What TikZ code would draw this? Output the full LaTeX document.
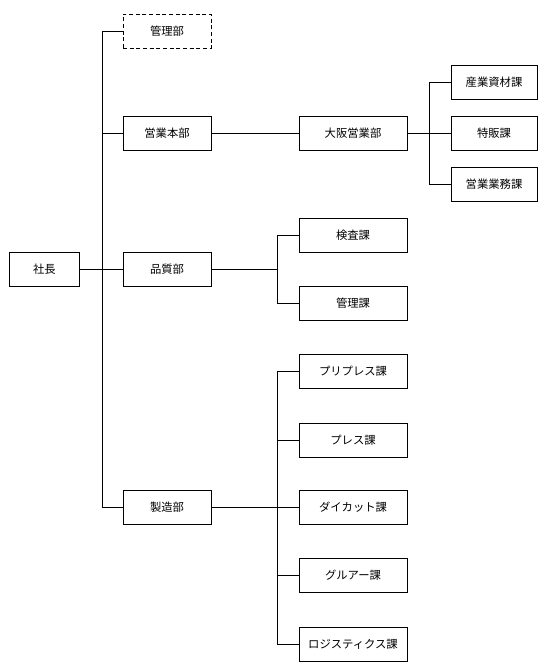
\documentclass[tikz,border=0pt]{standalone}
\usepackage{fontspec}
\setmainfont{Noto Sans CJK JP}
\usetikzlibrary{positioning}

\begin{document}
\begin{tikzpicture}[x=0.75pt,y=-0.75pt]
    \tikzset{%
        every node/.style={font=\fontsize{8.5}{10}\selectfont},
        unit/.style={draw,line width=0.75pt,minimum height=25.5pt,inner sep=0pt},
        bu/.style={unit,minimum width=66pt},
        ka/.style={unit,minimum width=81pt},
        subka/.style={unit,minimum width=64.5pt},
        link/.style={line width=0.75pt}%
    }
    %% canvas
    \useasboundingbox (0,0) rectangle (550,665);

    %% some definitions
    \def\xBu{167} % centre of the departments
    \def\xKa{353} % centre of the sections
    \def\xSub{494} % centre of the sub sections

    %% units
    \node[unit,minimum width=53pt] (shacho) at (44.5,269) {社長};
    \node[bu,densely dashed] (kanri) at (\xBu,31) {管理部};
    \node[bu] (eigyo) at (\xBu,133) {営業本部};
    \node[bu] (hinshitsu) at (\xBu,269) {品質部};
    \node[bu] (seizo) at (\xBu,507) {製造部};
    \node[ka] (osaka) at (\xKa,133) {大阪営業部};
    \node[ka] (kensa) at (\xKa,235) {検査課};
    \node[ka] (kanrika) at (\xKa,303) {管理課};
    \foreach \name/\y/\txt in {sangyo/82/産業資材課,tokuhan/133/特販課,gyomu/184.5/営業業務課}
        \node[subka] (\name) at (\xSub,\y) {\txt};
    \foreach \name/\y/\txt in {prepress/371.5/プリプレス課,press/440/プレス課,
            diecut/507/ダイカット課,gluer/575.5/グルアー課,logi/644/ロジスティクス課}
        \node[ka] (\name) at (\xKa,\y) {\txt};

    %% branch points
    \coordinate (trunk) at (102,0);
    \coordinate (osakaFork) at (429,0);
    \coordinate (kaFork) at (277,0);

    %% connectors
    \draw[link] (shacho) -- (hinshitsu);
    \draw[link] (kanri.west) -- (kanri.west -| trunk) -- (seizo.west -| trunk) -- (seizo.west);
    \draw[link] (eigyo) -- (eigyo.west -| trunk);
    \draw[link] (eigyo) -- (osaka);
    \draw[link] (osaka) -- (tokuhan);
    \draw[link] (sangyo.west) -- (sangyo.west -| osakaFork) -- (gyomu.west -| osakaFork) -- (gyomu.west);
    \draw[link] (hinshitsu.east) -- (hinshitsu.east -| kaFork);
    \draw[link] (kensa.west) -- (kensa.west -| kaFork) -- (kanrika.west -| kaFork) -- (kanrika.west);
    \draw[link] (seizo) -- (diecut);
    \draw[link] (prepress.west) -- (prepress.west -| kaFork) -- (logi.west -| kaFork) -- (logi.west);
    \foreach \n in {press,gluer}
        \draw[link] (\n.west) -- (\n.west -| kaFork);
\end{tikzpicture}
\end{document}
